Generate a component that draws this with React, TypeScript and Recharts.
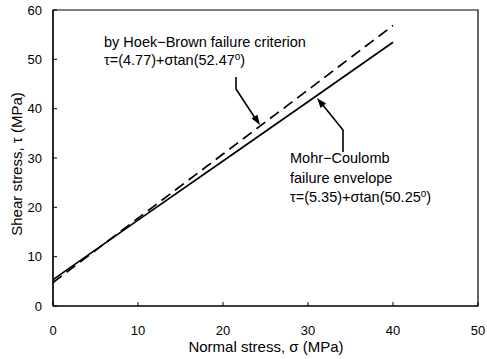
import React from 'react';
import { LineChart, Line, XAxis, YAxis, ReferenceArea } from 'recharts';

const sigma = [0, 10, 20, 30, 40];
const mohrCoulomb = [5.35, 17.4, 29.4, 41.4, 53.45];
const hoekBrown = [4.77, 17.8, 30.8, 43.8, 56.85];
const xTicks = [0, 10, 20, 30, 40, 50];
const yTicks = [0, 10, 20, 30, 40, 50, 60];

const data = sigma.map((s, i) => ({ s, mc: mohrCoulomb[i], hb: hoekBrown[i] }));

const FONT = '"Liberation Sans", Arial, Helvetica, sans-serif';

const XTick = (props: any) => {
  const { x, y, payload } = props;
  return (
    <g>
      <line x1={x} y1={y} x2={x} y2={y - 4} stroke="#000" strokeWidth={1} />
      <text x={x} y={y + 29} textAnchor="middle" fontSize={13} fontFamily={FONT} fill="#000">
        {payload.value}
      </text>
    </g>
  );
};

const YTick = (props: any) => {
  const { x, y, payload } = props;
  return (
    <g>
      <line x1={x} y1={y} x2={x + 4} y2={y} stroke="#000" strokeWidth={1} />
      <text x={x - 11} y={y + 4.5} textAnchor="end" fontSize={13} fontFamily={FONT} fill="#000">
        {payload.value}
      </text>
    </g>
  );
};

function arrowHead(tx: number, ty: number, hx: number, hy: number, len = 10, half = 3.5) {
  const dx = hx - tx;
  const dy = hy - ty;
  const d = Math.sqrt(dx * dx + dy * dy);
  const ux = dx / d;
  const uy = dy / d;
  const bx = hx - ux * len;
  const by = hy - uy * len;
  const px = -uy * half;
  const py = ux * half;
  return `${hx},${hy} ${bx + px},${by + py} ${bx - px},${by - py}`;
}

export default function App() {
  return (
    <div style={{ position: 'absolute', left: 0, top: 0, width: 487, height: 359, background: '#fff' }}>
      <LineChart width={487} height={359} data={data} margin={{ top: 10, right: 9, bottom: 0, left: 0 }}>
        <XAxis
          dataKey="s"
          type="number"
          domain={[0, 50]}
          ticks={xTicks}
          height={53}
          tickSize={0}
          tickMargin={0}
          tickLine={false}
          axisLine={{ stroke: '#000', strokeWidth: 1.2 }}
          tick={<XTick />}
          interval={0}
        />
        <YAxis
          type="number"
          domain={[0, 60]}
          ticks={yTicks}
          width={53}
          tickSize={0}
          tickMargin={0}
          tickLine={false}
          axisLine={{ stroke: '#000', strokeWidth: 1.2 }}
          tick={<YTick />}
          interval={0}
        />
        <ReferenceArea x1={0} x2={50} y1={0} y2={60} fill="none" stroke="#000" strokeWidth={1.2} fillOpacity={0} />
        <Line
          dataKey="mc"
          type="linear"
          stroke="#000"
          strokeWidth={1.7}
          dot={false}
          isAnimationActive={false}
        />
        <Line
          dataKey="hb"
          type="linear"
          stroke="#000"
          strokeWidth={1.7}
          strokeDasharray="11 6"
          dot={false}
          isAnimationActive={false}
        />
      </LineChart>
      <svg width={487} height={359} style={{ position: 'absolute', left: 0, top: 0, pointerEvents: 'none' }}>
        <g fontFamily={FONT} fill="#000">
          <text x={266} y={352} textAnchor="middle" fontSize={15}>Normal stress, σ (MPa)</text>
          <text x={22} y={164} textAnchor="middle" fontSize={15} transform="rotate(-90 22 164)">
            Shear stress, τ (MPa)
          </text>
          <text x={104} y={47} fontSize={14.5}>by Hoek−Brown failure criterion</text>
          <text x={104} y={65} fontSize={14.5}>τ=(4.77)+σtan(52.47<tspan dy={-5} fontSize={10}>o</tspan><tspan dy={5}>)</tspan></text>
          <text x={290} y={163} fontSize={14.5}>Mohr−Coulomb</text>
          <text x={290} y={183} fontSize={14.5}>failure envelope</text>
          <text x={290} y={202} fontSize={14.5}>τ=(5.35)+σtan(50.25<tspan dy={-5} fontSize={10}>o</tspan><tspan dy={5}>)</tspan></text>
        </g>
        <polyline points="236,77 236,89 255,118" fill="none" stroke="#000" strokeWidth={1.6} />
        <polygon points={arrowHead(236, 89, 260, 125)} fill="#000" />
        <polyline points="343,152 343,130 322,104" fill="none" stroke="#000" strokeWidth={1.6} />
        <polygon points={arrowHead(343, 130, 317, 98)} fill="#000" />
      </svg>
    </div>
  );
}
